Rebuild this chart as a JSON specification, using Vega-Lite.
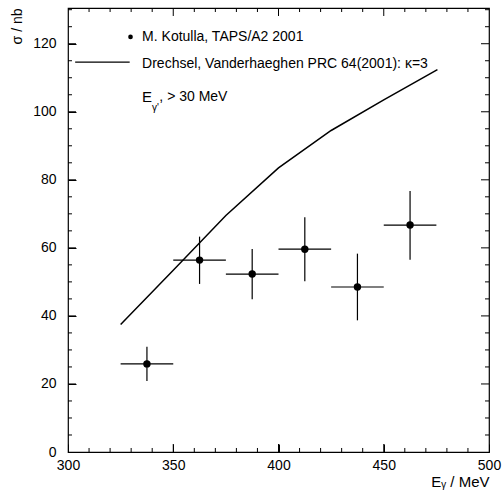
{
  "$schema": "https://vega.github.io/schema/vega-lite/v6.json",
  "autosize": "none",
  "width": 421,
  "height": 444,
  "padding": {"left": 68, "top": 8, "right": 15, "bottom": 39},
  "background": "white",
  "config": {
    "view": {"stroke": "black", "strokeWidth": 1.2},
    "font": "Liberation Sans",
    "axis": {"grid": false, "labelColor": "black", "titleColor": "black", "labelFont": "Liberation Sans", "titleFont": "Liberation Sans", "labelFontSize": 14, "titleFontSize": 14, "titleFontWeight": "normal"}
  },
  "datasets": {
    "theory": [
      {"E": 325, "sigma": 37.5},
      {"E": 350, "sigma": 53.4},
      {"E": 375, "sigma": 69.5},
      {"E": 400, "sigma": 83.5},
      {"E": 425, "sigma": 94.5},
      {"E": 450, "sigma": 103.5},
      {"E": 475.5, "sigma": 112.4}
    ],
    "points": [
      {"E": 337.5, "sigma": 25.9, "Elo": 325, "Ehi": 350, "slo": 20.9, "shi": 30.9},
      {"E": 362.5, "sigma": 56.4, "Elo": 350, "Ehi": 375, "slo": 49.4, "shi": 63.3},
      {"E": 387.5, "sigma": 52.3, "Elo": 375, "Ehi": 400, "slo": 44.9, "shi": 59.7},
      {"E": 412.5, "sigma": 59.6, "Elo": 400, "Ehi": 425, "slo": 50.2, "shi": 69.0},
      {"E": 437.5, "sigma": 48.5, "Elo": 425, "Ehi": 450, "slo": 38.7, "shi": 58.3},
      {"E": 462.5, "sigma": 66.7, "Elo": 450, "Ehi": 475, "slo": 56.5, "shi": 76.7}
    ],
    "xMajor": [{"E": 350}, {"E": 400}, {"E": 450}],
    "xMinor": [{"E": 310}, {"E": 320}, {"E": 330}, {"E": 340}, {"E": 360}, {"E": 370}, {"E": 380}, {"E": 390}, {"E": 410}, {"E": 420}, {"E": 430}, {"E": 440}, {"E": 460}, {"E": 470}, {"E": 480}, {"E": 490}],
    "yMajor": [{"sigma": 20}, {"sigma": 40}, {"sigma": 60}, {"sigma": 80}, {"sigma": 100}, {"sigma": 120}],
    "yMinor": [{"sigma": 5}, {"sigma": 10}, {"sigma": 15}, {"sigma": 25}, {"sigma": 30}, {"sigma": 35}, {"sigma": 45}, {"sigma": 50}, {"sigma": 55}, {"sigma": 65}, {"sigma": 70}, {"sigma": 75}, {"sigma": 85}, {"sigma": 90}, {"sigma": 95}, {"sigma": 105}, {"sigma": 110}, {"sigma": 115}, {"sigma": 125}, {"sigma": 130}],
    "legendText": [
      {"E": 335.2, "sigma": 122.0, "label": "M. Kotulla, TAPS/A2 2001"},
      {"E": 335.2, "sigma": 114.0, "label": "Drechsel, Vanderhaeghen PRC 64(2001): κ=3"},
      {"E": 343.4, "sigma": 104.3, "label": ", > 30 MeV"}
    ],
    "legendE": [
      {"E": 335.2, "sigma": 104.3, "label": "E"}
    ],
    "legendSub": [
      {"E": 339.9, "sigma": 102.5, "label": "γ'"}
    ],
    "legendLine": [
      {"E": 303.4, "sigma": 114.6},
      {"E": 329.3, "sigma": 114.6}
    ],
    "legendDot": [
      {"E": 329.7, "sigma": 122.0}
    ]
  },
  "resolve": {"axis": {"x": "independent", "y": "independent"}},
  "layer": [
    {
      "data": {"name": "theory"},
      "mark": {"type": "line", "color": "black", "strokeWidth": 1.5},
      "encoding": {
        "x": {"field": "E", "type": "quantitative", "scale": {"domain": [300, 500], "nice": false, "zero": false},
              "axis": {"orient": "bottom", "values": [300, 350, 400, 450, 500], "domain": false, "ticks": true, "tickColor": "black", "tickWidth": 1, "tickSize": -8, "labelPadding": 14, "labelFlush": false, "title": "Eᵧ / MeV", "titleAnchor": "end", "titleAlign": "right", "titlePadding": 2, "titleFontSize": 15}},
        "y": {"field": "sigma", "type": "quantitative", "scale": {"domain": [0, 130.5], "nice": false, "zero": false},
              "axis": {"orient": "left", "values": [0, 20, 40, 60, 80, 100, 120], "domain": false, "ticks": true, "tickColor": "black", "tickWidth": 1, "tickSize": -8, "labelPadding": 20, "labelFlush": false, "title": "σ / nb", "titleAnchor": "end", "titleAlign": "right", "titlePadding": 8}}
      }
    },
    {
      "data": {"name": "points"},
      "mark": {"type": "rule", "color": "black", "strokeWidth": 1.2},
      "encoding": {
        "x": {"field": "Elo", "type": "quantitative", "axis": null},
        "x2": {"field": "Ehi"},
        "y": {"field": "sigma", "type": "quantitative", "axis": null}
      }
    },
    {
      "data": {"name": "points"},
      "mark": {"type": "rule", "color": "black", "strokeWidth": 1.2},
      "encoding": {
        "x": {"field": "E", "type": "quantitative", "axis": null},
        "y": {"field": "slo", "type": "quantitative", "axis": null},
        "y2": {"field": "shi"}
      }
    },
    {
      "data": {"name": "points"},
      "mark": {"type": "circle", "color": "black", "opacity": 1, "size": 55},
      "encoding": {
        "x": {"field": "E", "type": "quantitative", "axis": null},
        "y": {"field": "sigma", "type": "quantitative", "axis": null}
      }
    },
    {
      "data": {"name": "xMajor"},
      "mark": {"type": "rule", "color": "black", "strokeWidth": 1},
      "encoding": {
        "x": {"field": "E", "type": "quantitative", "axis": null},
        "y": {"datum": 0, "type": "quantitative", "axis": null},
        "y2": {"datum": 2.35}
      }
    },
    {
      "data": {"name": "xMajor"},
      "mark": {"type": "rule", "color": "black", "strokeWidth": 1},
      "encoding": {
        "x": {"field": "E", "type": "quantitative", "axis": null},
        "y": {"datum": 128.15, "type": "quantitative", "axis": null},
        "y2": {"datum": 130.5}
      }
    },
    {
      "data": {"name": "xMinor"},
      "mark": {"type": "rule", "color": "black", "strokeWidth": 1},
      "encoding": {
        "x": {"field": "E", "type": "quantitative", "axis": null},
        "y": {"datum": 0, "type": "quantitative", "axis": null},
        "y2": {"datum": 1.18}
      }
    },
    {
      "data": {"name": "xMinor"},
      "mark": {"type": "rule", "color": "black", "strokeWidth": 1},
      "encoding": {
        "x": {"field": "E", "type": "quantitative", "axis": null},
        "y": {"datum": 129.32, "type": "quantitative", "axis": null},
        "y2": {"datum": 130.5}
      }
    },
    {
      "data": {"name": "yMajor"},
      "mark": {"type": "rule", "color": "black", "strokeWidth": 1},
      "encoding": {
        "x": {"datum": 300, "type": "quantitative", "axis": null},
        "x2": {"datum": 303.8},
        "y": {"field": "sigma", "type": "quantitative", "axis": null}
      }
    },
    {
      "data": {"name": "yMajor"},
      "mark": {"type": "rule", "color": "black", "strokeWidth": 1},
      "encoding": {
        "x": {"datum": 496.2, "type": "quantitative", "axis": null},
        "x2": {"datum": 500},
        "y": {"field": "sigma", "type": "quantitative", "axis": null}
      }
    },
    {
      "data": {"name": "yMinor"},
      "mark": {"type": "rule", "color": "black", "strokeWidth": 1},
      "encoding": {
        "x": {"datum": 300, "type": "quantitative", "axis": null},
        "x2": {"datum": 301.9},
        "y": {"field": "sigma", "type": "quantitative", "axis": null}
      }
    },
    {
      "data": {"name": "yMinor"},
      "mark": {"type": "rule", "color": "black", "strokeWidth": 1},
      "encoding": {
        "x": {"datum": 498.1, "type": "quantitative", "axis": null},
        "x2": {"datum": 500},
        "y": {"field": "sigma", "type": "quantitative", "axis": null}
      }
    },
    {
      "data": {"name": "legendLine"},
      "mark": {"type": "line", "color": "black", "strokeWidth": 1.3},
      "encoding": {
        "x": {"field": "E", "type": "quantitative", "axis": null},
        "y": {"field": "sigma", "type": "quantitative", "axis": null}
      }
    },
    {
      "data": {"name": "legendDot"},
      "mark": {"type": "circle", "color": "black", "opacity": 1, "size": 22},
      "encoding": {
        "x": {"field": "E", "type": "quantitative", "axis": null},
        "y": {"field": "sigma", "type": "quantitative", "axis": null}
      }
    },
    {
      "data": {"name": "legendText"},
      "mark": {"type": "text", "align": "left", "baseline": "middle", "fontSize": 14, "color": "black", "font": "Liberation Sans"},
      "encoding": {
        "x": {"field": "E", "type": "quantitative", "axis": null},
        "y": {"field": "sigma", "type": "quantitative", "axis": null},
        "text": {"field": "label"}
      }
    },
    {
      "data": {"name": "legendE"},
      "mark": {"type": "text", "align": "left", "baseline": "middle", "fontSize": 15, "color": "black", "font": "Liberation Sans"},
      "encoding": {
        "x": {"field": "E", "type": "quantitative", "axis": null},
        "y": {"field": "sigma", "type": "quantitative", "axis": null},
        "text": {"field": "label"}
      }
    },
    {
      "data": {"name": "legendSub"},
      "mark": {"type": "text", "align": "left", "baseline": "top", "fontSize": 10, "color": "black", "font": "Liberation Sans"},
      "encoding": {
        "x": {"field": "E", "type": "quantitative", "axis": null},
        "y": {"field": "sigma", "type": "quantitative", "axis": null},
        "text": {"field": "label"}
      }
    }
  ]
}
